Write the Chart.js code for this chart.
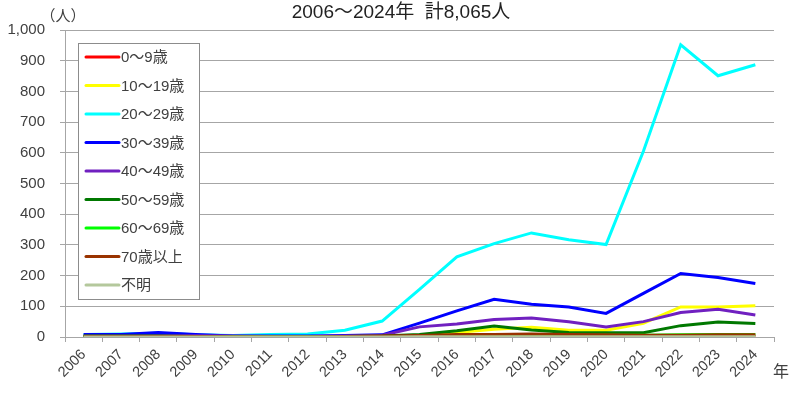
<!DOCTYPE html>
<html>
<head>
<meta charset="utf-8">
<script src="https://cdn.jsdelivr.net/npm/chart.js@4"></script>
<style>
  html, body { margin: 0; padding: 0; background: #fff; }
  #wrap { width: 808px; height: 393px; position: relative; }
</style>
</head>
<body>
<div id="wrap"><canvas id="chart" width="808" height="393"></canvas></div>
<script>
// data
const years = ["2006", "2007", "2008", "2009", "2010", "2011", "2012", "2013", "2014", "2015",
  "2016", "2017", "2018", "2019", "2020", "2021", "2022", "2023", "2024"];
const seriesNames = ["0～9歳", "10～19歳", "20～29歳", "30～39歳", "40～49歳", "50～59歳", "60～69歳", "70歳以上", "不明"];
const age0to9 = [1, 0, 1, 0, 0, 0, 0, 0, 1, 2, 3, 2, 3, 2, 2, 3, 3, 2, 3];
const age10to19 = [2, 2, 3, 1, 1, 1, 1, 2, 2, 5, 15, 25, 32, 22, 22, 45, 98, 98, 102];
const age20to29 = [8, 10, 12, 7, 5, 8, 10, 22, 52, 155, 261, 304, 339, 317, 301, 605, 952, 851, 887];
const age30to39 = [8, 8, 15, 8, 3, 3, 3, 5, 7, 45, 85, 123, 107, 98, 77, 142, 207, 194, 174];
const age40to49 = [4, 4, 5, 4, 3, 2, 2, 3, 6, 33, 42, 57, 62, 50, 33, 50, 80, 90, 72];
const age50to59 = [3, 3, 3, 2, 2, 1, 1, 2, 3, 8, 20, 36, 23, 15, 14, 14, 37, 49, 44];
const age60to69 = [1, 1, 1, 1, 1, 1, 1, 1, 1, 2, 4, 6, 5, 5, 6, 6, 7, 8, 8];
const age70plus = [2, 2, 2, 2, 1, 1, 1, 2, 3, 5, 8, 8, 10, 8, 7, 6, 6, 7, 7];
const ageUnknown = [0, 0, 0, 0, 0, 0, 0, 0, 0, 1, 1, 1, 1, 1, 1, 1, 1, 1, 1];
const yTicks = [0, 100, 200, 300, 400, 500, 600, 700, 800, 900, 1000];

const allSeries = [age0to9, age10to19, age20to29, age30to39, age40to49, age50to59, age60to69, age70plus, ageUnknown];
const colors = ["#ff0000", "#ffff00", "#00ffff", "#0000ff", "#7020c0", "#007800", "#00ff00", "#993300", "#b4c89c"];

const FONT = "Arial, 'Liberation Sans', 'Noto Sans CJK JP', sans-serif";
const TEXT = "#404040";

// legend box, titles and unit labels drawn on top of the chart
const extras = {
  id: "extras",
  afterDraw(chart) {
    const ctx = chart.ctx;
    ctx.save();
    // title
    ctx.fillStyle = "#222";
    ctx.font = "19px " + FONT;
    ctx.textAlign = "center";
    ctx.textBaseline = "middle";
    ctx.fillText("2006～2024年  計8,065人", 401, 13);
    // unit labels
    ctx.fillStyle = TEXT;
    ctx.font = "15px " + FONT;
    ctx.fillText("（人）", 63, 17);
    ctx.font = "16px " + FONT;
    ctx.fillText("年", 781, 373);
    // legend
    const bx = 78.5, by = 43.5, bw = 121, bh = 256;
    ctx.fillStyle = "#fff";
    ctx.fillRect(bx, by, bw, bh);
    ctx.strokeStyle = "#8c8c8c";
    ctx.lineWidth = 1;
    ctx.strokeRect(bx, by, bw, bh);
    ctx.font = "15px " + FONT;
    ctx.textAlign = "left";
    chart.data.datasets.forEach((ds, i) => {
      const y = 57 + i * 28.5;
      ctx.strokeStyle = ds.borderColor;
      ctx.lineWidth = 3;
      ctx.lineCap = "round";
      ctx.beginPath();
      ctx.moveTo(86, y);
      ctx.lineTo(119, y);
      ctx.stroke();
      ctx.fillStyle = TEXT;
      ctx.fillText(ds.label, 121, y + 1);
    });
    ctx.restore();
  }
};

new Chart(document.getElementById("chart"), {
  type: "line",
  data: {
    labels: years,
    datasets: seriesNames.map((name, i) => ({
      label: name,
      data: allSeries[i],
      borderColor: colors[i],
      backgroundColor: colors[i],
      borderWidth: 3,
      pointRadius: 0,
      tension: 0,
      order: seriesNames.length - i
    }))
  },
  options: {
    responsive: false,
    animation: false,
    layout: { padding: { top: 30, right: 34, left: 0, bottom: 0 } },
    plugins: {
      legend: { display: false },
      tooltip: { enabled: false },
      title: { display: false }
    },
    scales: {
      x: {
        offset: true,
        grid: { offset: true, drawOnChartArea: false, drawTicks: true, tickLength: 5, color: "#a6a6a6" },
        border: { color: "#a6a6a6" },
        ticks: {
          maxRotation: 45, minRotation: 45, autoSkip: false, padding: 4,
          color: TEXT, font: { size: 14.5, family: FONT }
        },
        afterFit(scale) { scale.height = 56; }
      },
      y: {
        min: 0,
        max: 1000,
        afterBuildTicks(scale) { scale.ticks = yTicks.map(v => ({ value: v })); },
        grid: { color: "#a6a6a6", tickLength: 5 },
        border: { color: "#a6a6a6" },
        ticks: {
          padding: 15,
          color: TEXT, font: { size: 15, family: FONT },
          callback: v => v.toLocaleString("en-US")
        },
        afterFit(scale) { scale.width = 65; }
      }
    }
  },
  plugins: [extras]
});
</script>
</body>
</html>
